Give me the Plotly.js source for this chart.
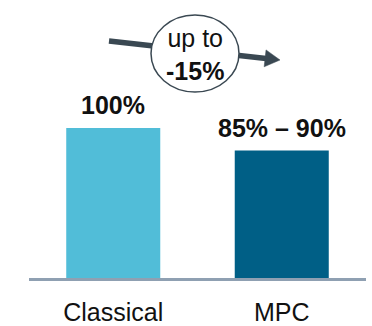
<!DOCTYPE html>
<html>
<head>
<meta charset="utf-8">
<script src="https://cdn.plot.ly/plotly-3.0.1.min.js"></script>
<style>html,body{margin:0;padding:0;background:#fff;}#chart{width:372px;height:326px;}</style>
</head>
<body>
<div id="chart"></div>
<script>
// ---- data ----
const categories = ['Classical', 'MPC'];
const values = [100, 85];
const valueLabels = ['100%', '85% – 90%'];
const changeLabel = ['up to', '-15%'];

// ---- styles ----
const barColors = ['#51bdd8', '#005f86'];
const ink = '#3a4852';
const FONT = 'Liberation Sans, Arial, sans-serif';
const FS = 25;

// layout geometry (pixels)
const W = 372, H = 326;
const M = {l: 29, r: 6, t: 0, b: 48};
const PW = W - M.l - M.r, PH = H - M.t - M.b;
const px = v => (v - M.l) / PW;          // pixel x -> paper x
const py = v => (H - M.b - v) / PH;      // pixel y -> paper y

// arrow geometry (decoration)
const tail = [109, 41], tip = [280, 60];
const dx = tip[0] - tail[0], dy = tip[1] - tail[1];
const len = Math.hypot(dx, dy);
const ux = dx / len, uy = dy / len;
const headLen = 15, headHalf = 8.5;
const bx = tip[0] - headLen * ux, by = tip[1] - headLen * uy;
const p1 = [bx - headHalf * uy, by + headHalf * ux];
const p2 = [bx + headHalf * uy, by - headHalf * ux];
const pathStr = `M${px(tip[0])},${py(tip[1])} L${px(p1[0])},${py(p1[1])} L${px(p2[0])},${py(p2[1])} Z`;

const trace = {
  type: 'bar',
  x: categories,
  y: values,
  width: 0.558,
  marker: {color: barColors},
  hoverinfo: 'skip'
};

const annotations = categories.map((c, i) => ({
  x: c, y: values[i], xref: 'x', yref: 'y',
  text: '<b>' + valueLabels[i] + '</b>',
  showarrow: false, yanchor: 'bottom', yshift: 7,
  font: {family: FONT, size: FS, color: '#111'}
}));
annotations.push({
  x: px(194.5), y: py(54), xref: 'paper', yref: 'paper',
  text: changeLabel[0] + '<br><b>' + changeLabel[1] + '</b>',
  showarrow: false, xanchor: 'center', yanchor: 'middle',
  font: {family: FONT, size: FS, color: '#111'}
});

const shapes = [
  {type: 'line', xref: 'paper', yref: 'paper',
   x0: px(tail[0]), y0: py(tail[1]), x1: px(bx + 1 * ux), y1: py(by + 1 * uy),
   line: {color: ink, width: 5.5}},
  {type: 'path', xref: 'paper', yref: 'paper', path: pathStr,
   fillcolor: ink, line: {color: ink, width: 0.5}},
  {type: 'circle', xref: 'paper', yref: 'paper',
   x0: px(151), x1: px(239), y0: py(92), y1: py(15),
   fillcolor: '#ffffff', line: {color: ink, width: 1.5}}
];

const layout = {
  width: W, height: H,
  margin: M,
  paper_bgcolor: '#fff', plot_bgcolor: '#fff',
  showlegend: false,
  font: {family: FONT, size: FS, color: '#111'},
  xaxis: {
    type: 'category',
    range: [-0.5, 1.5],
    showline: true, linecolor: '#8fa0b2', linewidth: 3,
    showgrid: false, zeroline: false, ticks: '',
    ticklabelstandoff: 10,
    tickfont: {family: FONT, size: FS, color: '#111'},
    fixedrange: true
  },
  yaxis: {
    range: [0, PH / 1.5],
    visible: false, showgrid: false, zeroline: false,
    fixedrange: true
  },
  annotations: annotations,
  shapes: shapes
};

Plotly.newPlot('chart', [trace], layout, {displayModeBar: false, staticPlot: true});
</script>
</body>
</html>
